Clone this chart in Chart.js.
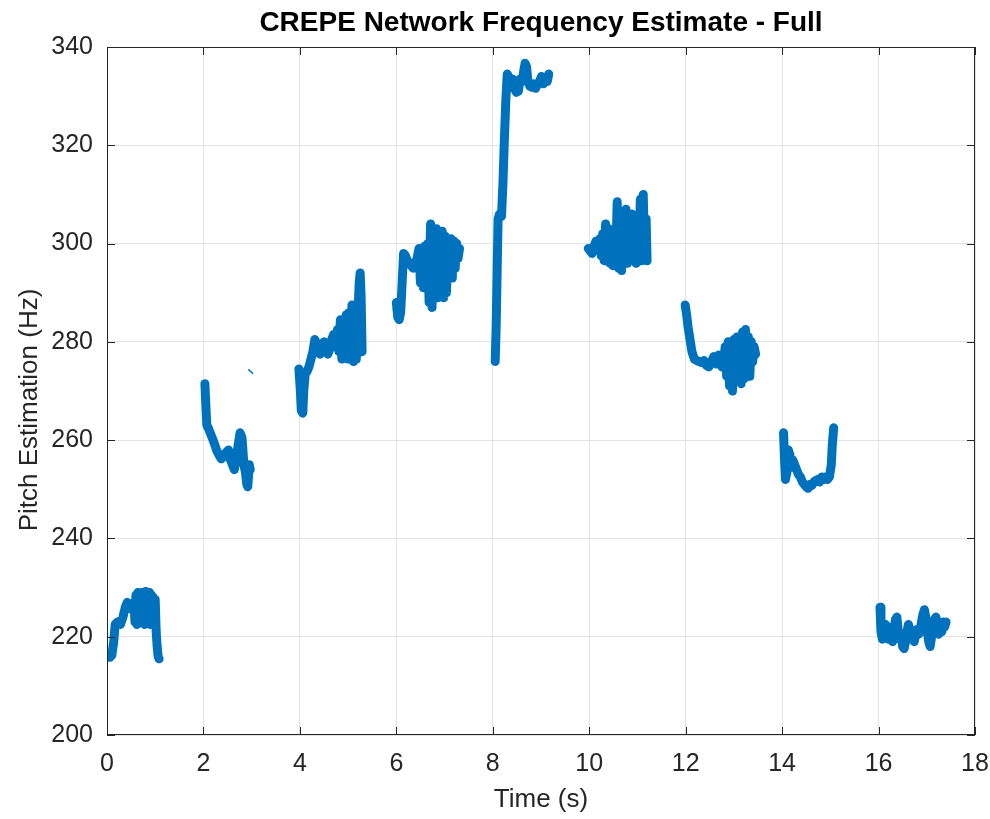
<!DOCTYPE html>
<html>
<head>
<meta charset="utf-8">
<script src="https://cdn.jsdelivr.net/npm/chart.js@4/dist/chart.umd.min.js"></script>
<style>
  html, body { margin: 0; padding: 0; background: #fff; }
  #wrap { width: 990px; height: 819px; }
</style>
</head>
<body>
<div id="wrap"><canvas id="chart" width="990" height="819"></canvas></div>
<script>
// ===== データ（時間 [s] とピッチ [Hz]、区間ごと） =====
const seg1Time = [0.02,0.06,0.10,0.14,0.17,0.22,0.28,0.33,0.38,0.42,0.47,0.52,0.56,0.58,0.60,0.62,0.64,0.66,0.68,0.70,0.72,0.74,0.76,0.78,0.80,0.82,0.84,0.86,0.88,0.90,0.92,0.94,0.96,0.98,1.00,1.02,1.04,1.06,1.08];
const seg1Hz   = [216.5,215.8,216.2,219,222.5,223,222.5,224,226,227,226,225.5,227,223,228.5,222.5,229,223.5,228.5,224,229,223,228,222.5,229.2,224,228.5,223,229,222.5,228.5,224,228,223,227.5,221,218,216,215.5];

const seg2Time = [2.03,2.05,2.07,2.10,2.14,2.18,2.22,2.27,2.32,2.37,2.42,2.47,2.52,2.56,2.60,2.64,2.68,2.72,2.76,2.80,2.84,2.87,2.90,2.92,2.95,2.97];
const seg2Hz   = [271.5,267,263,262.5,261.5,260.5,259.5,258,257,256.2,256.8,257.5,258,256,255,254,256,259,261.5,260.5,255,253.5,251,250.5,255,254];

const seg3Time = [3.98,4.01,4.03,4.06,4.08,4.11,4.15,4.19,4.23,4.27,4.31,4.35,4.39,4.42,4.46,4.50,4.54,4.58,4.62,4.66,4.70,4.74,4.78,4.81,4.84,4.87,4.90,4.93,4.96,4.99,5.02,5.05,5.08,5.11,5.14,5.17,5.20,5.23,5.25,5.27,5.29];
const seg3Hz   = [274.5,270,266,265.5,270,273.5,274,275,276.5,278,280.5,279.5,278,277.5,279.5,280,279,277.5,278.5,280.5,281.5,279,282.5,278,284.5,276.5,283,277,285.5,276.5,286,277,287.5,276,283,276.5,285,292,294,289,278];

const seg4Time = [6.00,6.03,6.06,6.09,6.12,6.15,6.19,6.23,6.27,6.31,6.35,6.39,6.43,6.47,6.50,6.53,6.56,6.59,6.62,6.65,6.68,6.71,6.74,6.77,6.80,6.83,6.86,6.89,6.92,6.95,6.98,7.01,7.04,7.07,7.10,7.13,7.16,7.19,7.22,7.25,7.28,7.31];
const seg4Hz   = [288,285,284.5,286,292,298,297.5,296.5,296,295.5,295,296,297,299,292,298,291,299.5,292,300,288,304,287,303,290,303,289,302,290,302.5,289,301.5,290,300.5,293,301,293,300.5,295,300,297,299];

const seg5Time = [8.05,8.07,8.09,8.11,8.14,8.18,8.21,8.24,8.27,8.30,8.33,8.37,8.41,8.45,8.49,8.53,8.57,8.61,8.64,8.67,8.70,8.73,8.77,8.81,8.85,8.89,8.93,8.97,9.01,9.05,9.09,9.13,9.16];
const seg5Hz   = [276,283,294,305,306,305.5,312,321,329,334.5,334,332.5,333.5,331.5,330.8,331,333.5,333,335,336.7,336,333,332,331.8,332.5,331.6,332.5,333,334,332.5,333.5,333,334.5];

const seg6Time = [9.98,10.02,10.06,10.10,10.14,10.18,10.22,10.25,10.28,10.31,10.34,10.37,10.40,10.43,10.46,10.49,10.52,10.55,10.58,10.61,10.64,10.67,10.70,10.73,10.76,10.79,10.82,10.85,10.88,10.91,10.94,10.97,11.00,11.03,11.06,11.09,11.12,11.15,11.18,11.20];
const seg6Hz   = [299,298.5,298,299.5,300.5,299,301,297.5,302,296.5,304,297,303,296,301,295.5,300,297,308.5,295,306,294.5,305,297,307,296,304,297,306,297.5,305,296,303,297,309,296.5,310,297,305,296.5];

const seg7Time = [11.99,12.02,12.05,12.09,12.13,12.18,12.23,12.28,12.33,12.38,12.43,12.48,12.53,12.58,12.63,12.68,12.72,12.75,12.79,12.82,12.85,12.88,12.91,12.94,12.97,13.00,13.03,13.06,13.09,13.12,13.15,13.18,13.21,13.24,13.27,13.30,13.33,13.36,13.39,13.42,13.45];
const seg7Hz   = [287.5,285.5,283,280.5,278,276.5,276.2,276,275.8,276.2,275.2,274.9,275.8,277,275.5,277.3,276,274.9,276,279,273,280,271,279.5,270,280.5,272,281,273,280,271.5,282,272.5,282.5,274,281,273,280,276,279,277.5];

const seg8Time = [14.03,14.05,14.07,14.10,14.13,14.16,14.19,14.22,14.26,14.30,14.34,14.38,14.42,14.46,14.50,14.54,14.58,14.62,14.66,14.70,14.74,14.78,14.82,14.86,14.90,14.94,14.98,15.02,15.04,15.07];
const seg8Hz   = [261.5,256,252,253.5,258,257,254.5,256,255,254,253,252.5,251.5,251,250.5,250.2,251,250.8,251.5,251.8,252,251.5,252.5,252,252.5,252,252.5,255,259,262.5];

const seg9Time = [16.03,16.05,16.08,16.11,16.14,16.17,16.20,16.23,16.26,16.29,16.32,16.35,16.38,16.41,16.44,16.47,16.50,16.53,16.56,16.59,16.62,16.65,16.68,16.71,16.74,16.77,16.80,16.83,16.86,16.89,16.92,16.95,16.98,17.01,17.04,17.07,17.10,17.13,17.16,17.19,17.22,17.25,17.28,17.31,17.34,17.37,17.40];
const seg9Hz   = [226,221,219.5,221.5,222.5,220,219.5,220.5,222,219,221,223.5,224,221,219.5,220.5,218,217.6,219,221,222.5,221.5,219.5,220,219,220.5,221.5,220.5,221,223,224.5,225.5,224,221,219,218,220,222,223.5,224,221.5,220.5,222,221,223,222,223];

// 細い断片（約 2.9 s 付近）
const fragTime = [2.93, 3.03];
const fragHz   = [274.4, 273.5];

const xTicks = [0, 2, 4, 6, 8, 10, 12, 14, 16, 18];
const yTicks = [200, 220, 240, 260, 280, 300, 320, 340];

// ===== 定数 =====
const LINE_COLOR = '#0072BD';
const AXIS_COLOR = '#262626';
const FONT = '"Liberation Sans", Arial, Helvetica, sans-serif';

// 区間をつなぎ、間に null を入れて線を切る
const segments = [
  [seg1Time, seg1Hz], [seg2Time, seg2Hz], [seg3Time, seg3Hz],
  [seg4Time, seg4Hz], [seg5Time, seg5Hz], [seg6Time, seg6Hz],
  [seg7Time, seg7Hz], [seg8Time, seg8Hz], [seg9Time, seg9Hz],
];
const mainPoints = [];
segments.forEach(([ts, hs], i) => {
  if (i > 0) mainPoints.push({ x: (ts[0] + mainPoints[mainPoints.length - 1].x) / 2, y: null });
  ts.forEach((t, j) => mainPoints.push({ x: t, y: hs[j] }));
});
const fragPoints = fragTime.map((t, i) => ({ x: t, y: fragHz[i] }));

// ===== 枠線・内向き目盛り・タイトル・y軸ラベル =====
const matlabAxes = {
  id: 'matlabAxes',
  afterDraw(chart) {
    const { ctx, chartArea: a, scales } = chart;
    ctx.save();
    ctx.strokeStyle = AXIS_COLOR;
    ctx.lineWidth = 1;
    ctx.strokeRect(a.left + 0.5, a.top + 0.5, a.right - a.left - 1, a.bottom - a.top - 1);
    ctx.beginPath();
    const tl = 8;
    xTicks.forEach(v => {
      const px = Math.round(scales.x.getPixelForValue(v)) + 0.5;
      ctx.moveTo(px, a.bottom); ctx.lineTo(px, a.bottom - tl);
      ctx.moveTo(px, a.top);    ctx.lineTo(px, a.top + tl);
    });
    yTicks.forEach(v => {
      const py = Math.round(scales.y.getPixelForValue(v)) + 0.5;
      ctx.moveTo(a.left, py);  ctx.lineTo(a.left + tl, py);
      ctx.moveTo(a.right, py); ctx.lineTo(a.right - tl, py);
    });
    ctx.stroke();

    // タイトル（プロット領域の中央）
    ctx.fillStyle = '#000';
    ctx.font = `bold 28px ${FONT}`;
    ctx.textAlign = 'center';
    ctx.textBaseline = 'middle';
    ctx.fillText('CREPE Network Frequency Estimate - Full', (a.left + a.right) / 2, 23);

    // y軸ラベル（少し下寄り）
    ctx.fillStyle = AXIS_COLOR;
    ctx.font = `26px ${FONT}`;
    ctx.translate(30, 410);
    ctx.rotate(-Math.PI / 2);
    ctx.fillText('Pitch Estimation (Hz)', 0, 0);
    ctx.restore();
  },
};

new Chart(document.getElementById('chart'), {
  type: 'line',
  data: {
    datasets: [
      {
        data: mainPoints,
        borderColor: LINE_COLOR,
        borderWidth: 9,
        borderJoinStyle: 'round',
        borderCapStyle: 'round',
        pointRadius: 0,
        spanGaps: false,
        tension: 0,
      },
      {
        data: fragPoints,
        borderColor: LINE_COLOR,
        borderWidth: 1.5,
        pointRadius: 0,
        tension: 0,
      },
    ],
  },
  options: {
    responsive: false,
    animation: false,
    layout: { padding: { top: 47, right: 0, left: 0, bottom: 0 } },
    plugins: {
      legend: { display: false },
      tooltip: { enabled: false },
      title: { display: false },
    },
    scales: {
      x: {
        type: 'linear',
        min: 0, max: 18,
        afterBuildTicks: s => { s.ticks = xTicks.map(v => ({ value: v })); },
        afterFit: s => { s.height = 84; s.paddingLeft = 0; s.paddingRight = 15; },
        grid: { color: '#e3e3e3', drawTicks: false },
        border: { display: false },
        ticks: { color: AXIS_COLOR, font: { family: FONT, size: 25 }, padding: 14, maxRotation: 0 },
        title: { display: true, text: 'Time (s)', color: AXIS_COLOR, font: { family: FONT, size: 26 }, padding: { top: 3 } },
      },
      y: {
        type: 'linear',
        min: 200, max: 340,
        afterBuildTicks: s => { s.ticks = yTicks.map(v => ({ value: v })); },
        afterFit: s => { s.width = 107; s.paddingTop = 0; s.paddingBottom = 0; },
        grid: { color: '#e3e3e3', drawTicks: false },
        border: { display: false },
        ticks: { color: AXIS_COLOR, font: { family: FONT, size: 25 }, padding: 14 },
        title: { display: false },
      },
    },
  },
  plugins: [matlabAxes],
});
</script>
</body>
</html>
